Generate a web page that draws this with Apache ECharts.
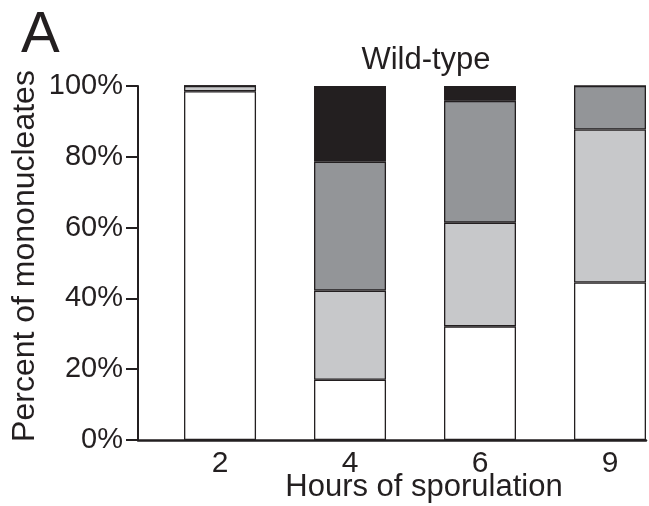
<!DOCTYPE html>
<html>
<head>
<meta charset="utf-8">
<script src="https://cdn.jsdelivr.net/npm/echarts@6/dist/echarts.min.js"></script>
<style>
  html, body { margin: 0; padding: 0; background: #fff; }
  #chart { width: 649px; height: 506px; }
</style>
</head>
<body>
<div id="chart"></div>
<script>
// Hours of sporulation (one stacked bar per time point)
const hours = ['2', '4', '6', '9'];
// Stacked shares of mononucleates, in percent, bottom to top
const classWhite     = [98.5, 17.0, 32.1, 44.5];
const classLightGray = [1.5, 25.2, 29.3, 43.2];
const classDarkGray  = [0, 36.4, 34.4, 12.3];
const classBlack     = [0, 21.4, 4.2, 0];
const yTicks = [0, 20, 40, 60, 80, 100];

const ink = '#231f20';
const font = '"Liberation Sans", Arial, Helvetica, sans-serif';

const segments = [
  { name: 'white', values: classWhite, color: '#ffffff' },
  { name: 'light', values: classLightGray, color: '#c7c8ca' },
  { name: 'dark', values: classDarkGray, color: '#939598' },
  { name: 'black', values: classBlack, color: '#231f20' }
];

const chart = echarts.init(document.getElementById('chart'), null, { renderer: 'canvas' });

chart.setOption({
  animation: false,
  backgroundColor: '#ffffff',
  title: [
    { text: 'A', left: 16, top: 2,
      textStyle: { fontFamily: font, fontSize: 58, fontWeight: 'normal', color: ink } },
    { text: 'Wild-type', left: 421, top: 40, textAlign: 'center',
      textStyle: { fontFamily: font, fontSize: 31, fontWeight: 'normal', color: ink } }
  ],
  grid: { left: 138, right: 3, top: 86, bottom: 66, outerBoundsMode: 'none' },
  xAxis: {
    type: 'value',
    min: -0.631,
    max: 3.277,
    splitLine: { show: false },
    axisLine: { show: true, onZero: false, lineStyle: { color: ink, width: 2.5 } },
    axisTick: { show: false },
    axisLabel: {
      customValues: hours.map((h, i) => i),
      formatter: v => hours[Math.round(v)],
      margin: 9,
      fontFamily: font, fontSize: 30, color: ink
    },
    name: 'Hours of sporulation',
    nameLocation: 'middle',
    nameGap: 32,
    nameMoveOverlap: false,
    nameTextStyle: { fontFamily: font, fontSize: 31, color: ink, padding: [0, 0, 0, 64] }
  },
  yAxis: {
    type: 'value',
    min: 0,
    max: 100,
    interval: 20,
    splitLine: { show: false },
    axisLine: { show: true, onZero: false, lineStyle: { color: ink, width: 2 } },
    axisTick: { show: true, length: 12, lineStyle: { color: ink, width: 2 } },
    axisLabel: {
      customValues: yTicks,
      formatter: v => v + '%',
      margin: 15,
      fontFamily: font, fontSize: 29, color: ink
    },
    name: 'Percent of mononucleates',
    nameLocation: 'middle',
    nameGap: 97,
    nameMoveOverlap: false,
    nameTextStyle: { fontFamily: font, fontSize: 32, color: ink, padding: [0, 0, 0, 14] }
  },
  // value first so that the stack runs over the percentage dimension
  series: segments.map(s => ({
    type: 'bar',
    name: s.name,
    stack: 'total',
    barWidth: 72,
    dimensions: ['pct', 'slot'],
    encode: { x: 'slot', y: 'pct' },
    data: s.values.map((v, i) => [v, i]),
    itemStyle: { color: s.color, borderColor: ink, borderWidth: 1.3 }
  }))
});
</script>
</body>
</html>
